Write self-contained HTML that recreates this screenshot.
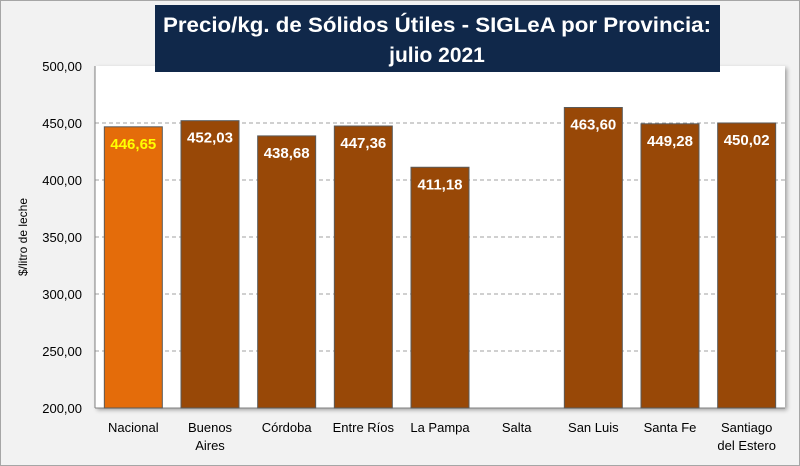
<!DOCTYPE html>
<html><head><meta charset="utf-8"><style>
body{margin:0;width:800px;height:466px;background:#f2f2f2;font-family:"Liberation Sans",sans-serif;overflow:hidden}
#frame{position:absolute;left:0;top:0;width:798px;height:464px;border:1px solid #a6a6a6}
</style></head><body>
<div id="frame"></div>
<svg width="800" height="466" style="position:absolute;left:0;top:0">
<defs><filter id="sh" x="-5%" y="-5%" width="110%" height="110%"><feDropShadow dx="2" dy="2" stdDeviation="2" flood-color="#000" flood-opacity="0.35"/></filter></defs>
<rect x="95" y="66" width="690" height="342" fill="#fff" filter="url(#sh)"/>
<g id="grid"></g><g id="bars"></g><g id="labels"></g>
<rect x="155" y="5" width="565" height="67" fill="#10284a"/>
<text x="437" y="32" text-anchor="middle" fill="#fff" font-size="21" font-weight="bold" textLength="548" lengthAdjust="spacingAndGlyphs">Precio/kg. de Sólidos Útiles - SIGLeA por Provincia:</text>
<text x="437" y="62" text-anchor="middle" fill="#fff" font-size="21" font-weight="bold">julio 2021</text>
<text transform="translate(27,237) rotate(-90)" text-anchor="middle" font-size="12" fill="#000">$/litro de leche</text>
</svg>
<script>
const categories=["Nacional","Buenos|Aires","Córdoba","Entre Ríos","La Pampa","Salta","San Luis","Santa Fe","Santiago|del Estero"];
const values=[446.65,452.03,438.68,447.36,411.18,null,463.60,449.28,450.02];
const valueLabels=["446,65","452,03","438,68","447,36","411,18","","463,60","449,28","450,02"];
const ticks=[200,250,300,350,400,450,500];
const tickLabels=["200,00","250,00","300,00","350,00","400,00","450,00","500,00"];
const NS="http://www.w3.org/2000/svg";
const x0=95,x1=785,yTop=66,yBot=408,vMin=200,vMax=500;
const slot=(x1-x0)/categories.length;
const y=v=>yBot-(v-vMin)/(vMax-vMin)*(yBot-yTop);
const xc=i=>x0+slot*(i+0.5);
function mk(tag,a,p){const e=document.createElementNS(NS,tag);for(const k in a)e.setAttribute(k,a[k]);p.appendChild(e);return e;}
const g=document.getElementById('grid'),b=document.getElementById('bars'),l=document.getElementById('labels');
ticks.forEach((t,i)=>{
  if(t>vMin&&t<vMax){const ln=mk('line',{x1:x0,x2:x1,y1:y(t),y2:y(t),stroke:'#a0a0a0','stroke-dasharray':'4,3'},g);
  
  }
  const tx=mk('text',{x:82,y:y(t)+5,'text-anchor':'end','font-size':'13',fill:'#000'},l);tx.textContent=tickLabels[i];
  
  
});
mk('line',{x1:x0,x2:x0,y1:yTop,y2:yBot,stroke:'#808080'},g);
mk('line',{x1:x0,x2:x1,y1:yBot,y2:yBot,stroke:'#808080'},g);
categories.forEach((c,i)=>{
  const parts=c.split('|');
  parts.forEach((p,j)=>{const tx=mk('text',{x:xc(i),y:432+j*18,'text-anchor':'middle','font-size':'13',fill:'#000'},l);tx.textContent=p;
  
  });
  const v=values[i];if(v==null)return;
  const r=mk('rect',{x:xc(i)-29,y:y(v),width:58,height:yBot-y(v),fill:i===0?'#e46c0a':'#984807',stroke:'#5a5a5a','stroke-width':1},b);
  
  
  const tx=mk('text',{x:xc(i),y:y(v)+22,'text-anchor':'middle','font-size':'15','font-weight':'bold',fill:i===0?'#ffff00':'#fff'},l);tx.textContent=valueLabels[i];
  
  
});
</script>
</body></html>
